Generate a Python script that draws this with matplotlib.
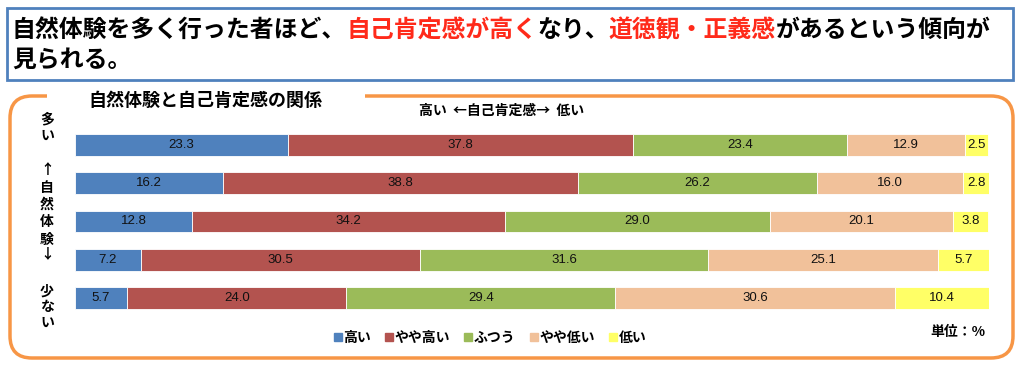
import matplotlib
matplotlib.use("Agg")
import matplotlib.pyplot as plt
from matplotlib.patches import FancyBboxPatch, Rectangle
from matplotlib.lines import Line2D
import numpy as np

plt.rcParams['font.family'] = ['Noto Sans CJK JP', 'DejaVu Sans']

categories = ["多い", "", "", "", "少ない"]
series_names = ["高い", "やや高い", "ふつう", "やや低い", "低い"]
high = [23.3, 16.2, 12.8, 7.2, 5.7]
rather_high = [37.8, 38.8, 34.2, 30.5, 24.0]
normal = [23.4, 26.2, 29.0, 31.6, 29.4]
rather_low = [12.9, 16.0, 20.1, 25.1, 30.6]
low = [2.5, 2.8, 3.8, 5.7, 10.4]
series = [high, rather_high, normal, rather_low, low]
colors = ["#4F81BD", "#B3534F", "#9BBB59", "#F1C19A", "#FFFF66"]

W, H = 1024, 370
fig = plt.figure(figsize=(W / 100, H / 100), dpi=100)

def fx(x):
    return x / W

def fy(y):
    return 1 - y / H

# overlay axes in pixel coordinates
ov = fig.add_axes([0, 0, 1, 1])
ov.set_xlim(0, W)
ov.set_ylim(H, 0)
ov.axis("off")

# Title box
ov.add_patch(Rectangle((7, 8), 1013 - 7, 80 - 8, fill=False,
                       edgecolor="#4F81BD", linewidth=2.0))

renderer = fig.canvas.get_renderer()

def rich_line(parts, x0, y, size):
    x = x0
    for txt, col in parts:
        t = ov.text(x, y, txt, color=col, fontsize=size,
                    fontweight="bold", va="center", ha="left")
        bb = t.get_window_extent(renderer=renderer)
        x += bb.width

red = "#FF2A1A"
rich_line([("自然体験を多く行った者ほど、", "black"), ("自己肯定感が高く", red),
           ("なり、", "black"), ("道徳観・正義感", red),
           ("があるという傾向が", "black")], 12, 30, 17.2)
rich_line([("見られる。", "black")], 12, 60, 17.2)

# Orange rounded box
ov.add_patch(FancyBboxPatch((10, 96), 1013 - 10, 358 - 96,
                            boxstyle="round,pad=0,rounding_size=22",
                            fill=False, edgecolor="#F79646", linewidth=2.5))
# gap for chart title
ov.add_patch(Rectangle((47, 90), 365 - 47, 12, facecolor="white",
                       edgecolor="none", zorder=3))
ov.text(88, 100, "自然体験と自己肯定感の関係", fontsize=13,
        fontweight="bold", va="center", ha="left", zorder=4)

# Bars
ax = fig.add_axes([fx(75), fy(317), fx(989 - 75), (317 - 126) / H])
y = np.arange(len(high))
left = np.zeros(len(high))
for vals, c, name in zip(series, colors, series_names):
    vals = np.array(vals)
    ax.barh(y, vals, left=left, height=0.575, color=c, edgecolor="white",
            linewidth=0.6, label=name)
    for yi, (l, v) in enumerate(zip(left, vals)):
        ax.text(l + v / 2, yi, f"{v:.1f}", ha="center", va="center",
                fontsize=9.5, color="#111111",
                family=["Liberation Sans", "DejaVu Sans"])
    left = left + vals
ax.set_xlim(0, 100)
ax.set_ylim(len(high) - 0.5, -0.5)
ax.axis("off")

# Header
ov.text(502, 111, "高い  ←自己肯定感→  低い", fontsize=10,
        fontweight="bold", ha="center", va="center")

# Left vertical labels
def vlabel(chars, ys):
    for ch, yy in zip(chars, ys):
        ov.text(47, yy, ch, fontsize=10, fontweight="bold",
                ha="center", va="center")

vlabel("多い", [119, 136])
vlabel("↑自然体験↓", [170, 188, 205, 222, 240, 254])
vlabel("少ない", [292, 307, 323])

# Legend
handles = [Line2D([0], [0], marker="s", linestyle="none", markersize=6,
                  markerfacecolor=c, markeredgecolor=c) for c in colors]
fig.legend(handles, series_names, loc="center", ncol=5, frameon=False,
           bbox_to_anchor=(fx(490), fy(338)), handletextpad=0.1,
           handlelength=0.6, columnspacing=1.0,
           prop={"size": 10, "weight": "bold"})

ov.text(958, 332, "単位：%", fontsize=10, fontweight="bold",
        ha="center", va="center")

fig.savefig("out.png", dpi=100)
